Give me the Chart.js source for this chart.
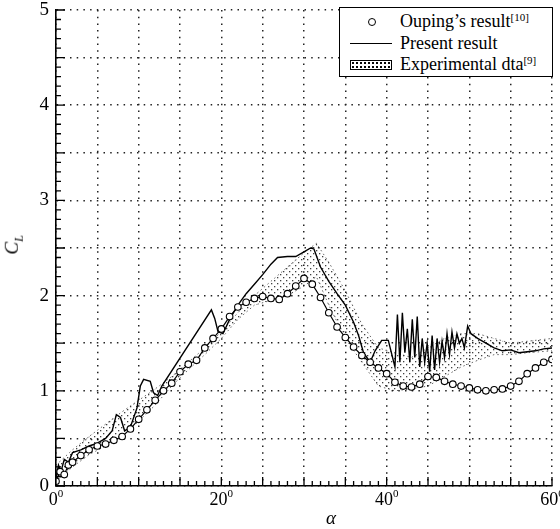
<!DOCTYPE html>
<html>
<head>
<meta charset="utf-8">
<script src="https://cdn.jsdelivr.net/npm/chart.js@4"></script>
<style>
  body { margin: 0; background: #fff; }
  #wrap { position: relative; width: 560px; height: 529px; font-family: "Liberation Serif", serif; }
  #legend { position: absolute; left: 339px; top: 7px; width: 212px; height: 68px; border: 1.5px solid #000; background: #fff; font-size: 18px; color: #000; }
  .row { position: absolute; left: 60px; white-space: nowrap; line-height: 20px; }
  .row sup { font-size: 11px; vertical-align: 6px; line-height: 0; }
  .sym { position: absolute; }
  #ytitle { position: absolute; left: 4px; top: 232px; transform: rotate(-90deg); font-size: 19px; font-style: italic; }
  #ytitle sub { font-size: 12px; }
  #xtitle { position: absolute; left: 326px; top: 507px; font-size: 19px; font-style: italic; }
</style>
</head>
<body>
<div id="wrap">
  <canvas id="myChart" width="560" height="529"></canvas>
  <div id="legend">
    <div class="sym" style="left:28px;top:10px;width:6px;height:6px;border:1.3px solid #000;border-radius:50%;"></div>
    <div class="row" style="top:3px;">Ouping’s result<sup>[10]</sup></div>
    <div class="sym" style="left:10px;top:35px;width:42px;height:0;border-top:1.5px solid #000;"></div>
    <div class="row" style="top:25px;">Present result</div>
    <div class="sym" style="left:10px;top:52px;width:40px;height:8px;border:1.3px solid #000;background-image:radial-gradient(#000 0.7px, transparent 1px);background-size:4px 4px;"></div>
    <div class="row" style="top:46px;">Experimental dta<sup>[9]</sup></div>
  </div>
  <div id="ytitle">C<sub>L</sub></div>
  <div id="xtitle">α</div>
</div>
<script>
// Ouping's result (circles)
const ouAlpha = [0, 0.5, 1, 1.5, 2, 3, 4, 5, 6, 7, 8, 9, 10, 11, 12, 13, 14, 15, 16, 17, 18, 19, 20,
  21, 22, 23, 24, 25, 26, 27, 28, 29, 30, 31, 32, 33, 34, 35, 36, 37, 38, 39, 40,
  41, 42, 43, 44, 45, 46, 47, 48, 49, 50, 51, 52, 53, 54, 55, 56, 57, 58, 59, 60];
const ouCL = [0.05, 0.15, 0.12, 0.22, 0.25, 0.32, 0.38, 0.42, 0.44, 0.48, 0.52, 0.6, 0.7, 0.8, 0.9, 1.0, 1.08, 1.2, 1.28, 1.32, 1.45, 1.55, 1.65,
  1.78, 1.88, 1.93, 1.97, 1.99, 1.97, 1.96, 2.02, 2.1, 2.18, 2.12, 1.98, 1.82, 1.67, 1.56, 1.46, 1.37, 1.3, 1.24, 1.18,
  1.09, 1.05, 1.04, 1.07, 1.15, 1.14, 1.1, 1.07, 1.05, 1.03, 1.01, 1.0, 1.01, 1.02, 1.05, 1.1, 1.18, 1.24, 1.3, 1.33];

// Present result (solid line)
const prAlpha = [0, 0.3, 0.6, 1, 1.5, 2, 3, 4, 5, 6, 6.8, 7.3, 7.8, 8.3, 9, 9.8, 10.2, 10.6, 11.4, 11.8,
  12.3, 12.8, 18.8, 19.2, 19.6, 20.2, 21, 22, 23, 24, 25, 26, 26.8, 28, 29, 30, 30.8, 31.2, 32, 33,
  34, 35, 36, 36.6, 37.2, 38, 38.6, 39.4, 40.2, 41, 41.3, 41.6, 41.9, 42.2, 42.5, 42.8, 43.1, 43.4, 43.7, 44,
  44.3, 44.6, 44.9, 45.2, 45.5, 45.8, 46.1, 46.4, 46.7, 47, 47.3, 47.6, 47.9, 48.2, 48.5, 48.8, 49.1, 49.4, 49.8, 50.2,
  51, 52, 53, 54, 55, 56, 57, 58, 59, 60];
const prCL = [0.08, 0.22, 0.15, 0.28, 0.25, 0.35, 0.38, 0.42, 0.45, 0.5, 0.58, 0.75, 0.72, 0.58, 0.62, 0.82, 1.05, 1.12, 1.1, 0.98,
  0.95, 1.05, 1.85, 1.76, 1.62, 1.6, 1.75, 1.9, 2.02, 2.12, 2.22, 2.33, 2.4, 2.41, 2.41, 2.46, 2.5, 2.49, 2.3, 2.15,
  2.02, 1.9, 1.72, 1.58, 1.4, 1.3, 1.42, 1.53, 1.53, 1.25, 1.8, 1.3, 1.82, 1.4, 1.65, 1.3, 1.75, 1.35, 1.78, 1.25,
  1.55, 1.3, 1.5, 1.2, 1.58, 1.22, 1.55, 1.3, 1.52, 1.35, 1.6, 1.38, 1.62, 1.45, 1.6, 1.5, 1.55, 1.45, 1.68, 1.6,
  1.55, 1.5, 1.45, 1.42, 1.43, 1.4, 1.41, 1.42, 1.44, 1.45];

// Experimental data band (upper / lower edge)
const exAlpha = [0, 2, 4, 6, 8, 10, 12, 14, 16, 18, 20, 22, 24, 26, 28, 30, 31.5, 33, 35, 37, 39, 41, 43, 45, 47, 49, 51, 53, 55, 57, 60];
const exUpper = [0.22, 0.38, 0.52, 0.65, 0.78, 0.9, 1.02, 1.15, 1.3, 1.45, 1.62, 1.82, 2.0, 2.15, 2.3, 2.45, 2.55, 2.35, 2.05, 1.7, 1.45, 1.4, 1.35, 1.45, 1.55, 1.6, 1.6, 1.55, 1.5, 1.52, 1.55];
const exLower = [0.05, 0.2, 0.33, 0.42, 0.52, 0.68, 0.85, 1.05, 1.22, 1.38, 1.55, 1.75, 1.9, 1.95, 2.0, 2.1, 2.2, 1.9, 1.55, 1.3, 1.05, 1.0, 1.02, 1.05, 1.15, 1.25, 1.32, 1.38, 1.38, 1.4, 1.42];

const xLabelValues = [0, 20, 40, 60];
const yLabelValues = [0, 1, 2, 3, 4, 5];

const pts = (xs, ys) => xs.map((x, i) => ({ x: x, y: ys[i] }));

// dotted fill for the experimental band
const makeDots = () => {
  const c = document.createElement("canvas");
  c.width = 6; c.height = 6;
  const g = c.getContext("2d");
  g.fillStyle = "rgba(0,0,0,0.75)";
  g.fillRect(1, 1, 1.3, 1.3);
  g.fillRect(4, 4, 1.3, 1.3);
  return g.createPattern(c, "repeat");
};

// inward tick marks and degree labels on x
const axisDecor = {
  id: "axisDecor",
  afterDraw(chart) {
    const ctx = chart.ctx;
    const xs = chart.scales.x, ys = chart.scales.y;
    const bottom = ys.getPixelForValue(0), left = xs.getPixelForValue(0);
    ctx.save();
    ctx.strokeStyle = "#000";
    ctx.lineWidth = 1.3;
    ctx.beginPath();
    for (let v = 0; v <= 60; v++) {
      const px = xs.getPixelForValue(v);
      const len = v % 5 === 0 ? 9 : 5;
      ctx.moveTo(px, bottom);
      ctx.lineTo(px, bottom - len);
    }
    for (let i = 0; i <= 50; i++) {
      const py = ys.getPixelForValue(i / 10);
      const len = i % 5 === 0 ? 9 : 5;
      ctx.moveTo(left, py);
      ctx.lineTo(left + len, py);
    }
    ctx.stroke();
    ctx.fillStyle = "#000";
    ctx.textBaseline = "alphabetic";
    xLabelValues.forEach(v => {
      const px = xs.getPixelForValue(v);
      const main = String(v);
      ctx.font = "18px 'Liberation Serif'";
      const w1 = ctx.measureText(main).width;
      ctx.font = "11px 'Liberation Serif'";
      const w2 = ctx.measureText("0").width;
      const x0 = px - (w1 + w2) / 2;
      ctx.font = "18px 'Liberation Serif'";
      ctx.fillText(main, x0, bottom + 19);
      ctx.font = "11px 'Liberation Serif'";
      ctx.fillText("0", x0 + w1, bottom + 11);
    });
    ctx.restore();
  }
};

const ctx = document.getElementById("myChart").getContext("2d");
const chart = new Chart(ctx, {
  type: "line",
  data: {
    datasets: [
      {
        label: "Ouping's result",
        data: pts(ouAlpha, ouCL),
        borderColor: "#000",
        borderWidth: 1.2,
        pointRadius: 3.3,
        pointBorderWidth: 1.1,
        pointBorderColor: "#000",
        pointBackgroundColor: "#fff",
        fill: false,
        order: 1
      },
      {
        label: "Present result",
        data: pts(prAlpha, prCL),
        borderColor: "#000",
        borderWidth: 1.4,
        pointRadius: 0,
        fill: false,
        order: 2
      },
      {
        label: "Experimental upper",
        data: pts(exAlpha, exUpper),
        borderColor: "rgba(0,0,0,0.6)",
        borderWidth: 1,
        borderDash: [1.5, 3],
        pointRadius: 0,
        fill: "+1",
        backgroundColor: makeDots(),
        order: 3
      },
      {
        label: "Experimental lower",
        data: pts(exAlpha, exLower),
        borderColor: "rgba(0,0,0,0.6)",
        borderWidth: 1,
        borderDash: [1.5, 3],
        pointRadius: 0,
        fill: false,
        order: 4
      }
    ]
  },
  options: {
    responsive: false,
    animation: false,
    layout: { padding: { top: 10, right: 8, left: 0, bottom: 0 } },
    plugins: { legend: { display: false }, tooltip: { enabled: false } },
    scales: {
      x: {
        type: "linear",
        min: 0,
        max: 60,
        afterFit: s => { s.height = 43; s.paddingLeft = 0; s.paddingRight = 0; },
        ticks: { display: false, stepSize: 5 },
        grid: { color: "#222", lineWidth: 1.5, drawTicks: false },
        border: { display: true, color: "#000", width: 1.6, dash: [1.5, 5.2] }
      },
      y: {
        min: 0,
        max: 5,
        afterFit: s => { s.width = 56; s.paddingTop = 0; s.paddingBottom = 0; },
        ticks: {
          stepSize: 0.5,
          padding: 7,
          color: "#000",
          font: { family: "'Liberation Serif'", size: 19 },
          callback: v => (yLabelValues.includes(v) ? v : "")
        },
        grid: { color: "#222", lineWidth: 1.5, drawTicks: false },
        border: { display: true, color: "#000", width: 1.6, dash: [1.5, 5.2] }
      }
    }
  },
  plugins: [axisDecor]
});
</script>
</body>
</html>
